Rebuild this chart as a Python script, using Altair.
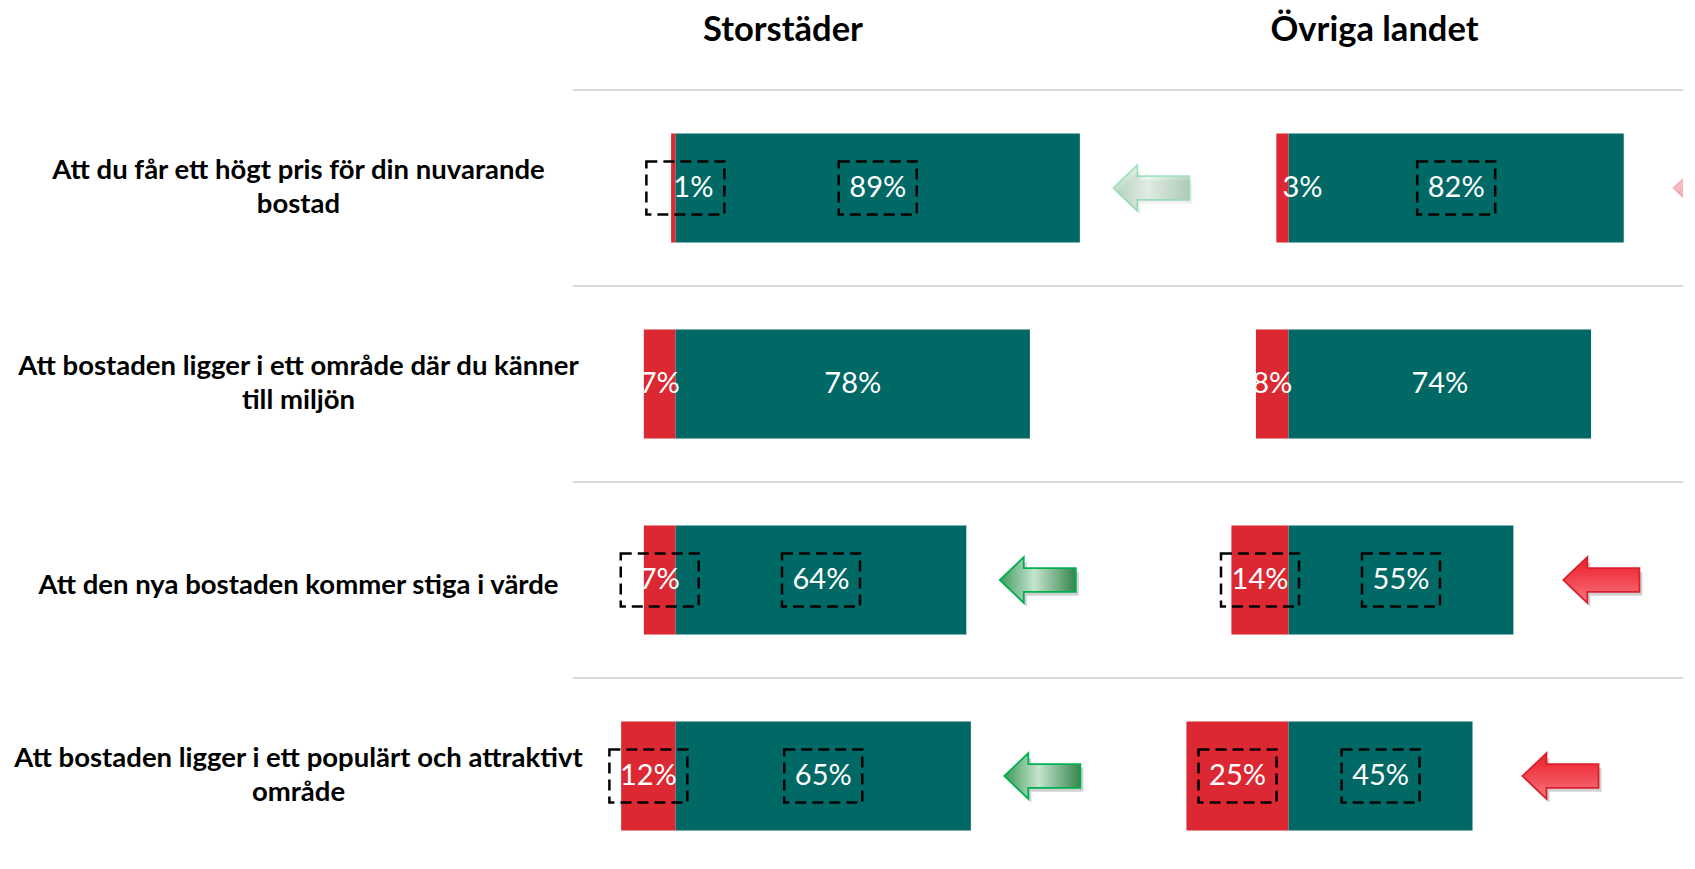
import altair as alt
import pandas as pd

# ---------------- data ----------------
categories = [
    "Att du får ett högt pris för din nuvarande\nbostad",
    "Att bostaden ligger i ett område där du känner\ntill miljön",
    "Att den nya bostaden kommer stiga i värde",
    "Att bostaden ligger i ett populärt och attraktivt\nområde",
]
regions = ["Storstäder", "Övriga landet"]

neg_storstader = [1, 7, 7, 12]
pos_storstader = [89, 78, 64, 65]
neg_ovriga = [3, 8, 14, 25]
pos_ovriga = [82, 74, 55, 45]

# dashed highlight boxes around labels
box_neg_storstader = [True, False, True, True]
box_pos_storstader = [True, False, True, True]
box_neg_ovriga = [False, False, True, True]
box_pos_ovriga = [True, False, True, True]

# trend arrows: "green" / "red" / None, and whether faded
arrow_storstader = ["green", None, "green", "green"]
arrow_ovriga = ["red", None, "red", "red"]
arrow_faded_storstader = [True, False, False, False]
arrow_faded_ovriga = [True, False, False, False]

# ---------------- style ----------------
RED = "#DC2832"
TEAL = "#006865"
FONT = "Lato, sans-serif"
SEP = "#d9d9d9"

RECT_SHAPE = "M-1,-0.68 L1,-0.68 L1,0.68 L-1,0.68 Z"
ARROW_SHAPE = "M-1,0 L-0.37,-0.6 L-0.37,-0.31 L1,-0.31 L1,0.31 L-0.37,0.31 L-0.37,0.6 Z"

GREEN_GRAD = alt.LinearGradient(
    gradient="linear",
    stops=[alt.GradientStop(offset=0, color="#3f9a5c"),
           alt.GradientStop(offset=0.45, color="#c4e4ce"),
           alt.GradientStop(offset=1, color="#36854d")],
    x1=0, x2=1, y1=0, y2=0)
RED_GRAD = alt.LinearGradient(
    gradient="linear",
    stops=[alt.GradientStop(offset=0, color="#ec1c2a"),
           alt.GradientStop(offset=0.55, color="#f24b55"),
           alt.GradientStop(offset=1, color="#f87880")],
    x1=0, x2=0, y1=0, y2=1)


def seg_frame(neg, pos, bneg, bpos):
    rows = []
    for c, n, p, bn, bp in zip(categories, neg, pos, bneg, bpos):
        rows.append(dict(category=c, side="neg", value=n, x0=-n, x1=0,
                         mid=-n / 2, label=f"{n}%", box=bn))
        rows.append(dict(category=c, side="pos", value=p, x0=0, x1=p,
                         mid=p / 2, label=f"{p}%", box=bp))
    return pd.DataFrame(rows)


def arrow_frame(pos, arrows, faded):
    rows = []
    for c, p, a, f in zip(categories, pos, arrows, faded):
        if a is not None:
            rows.append(dict(category=c, end=p, kind=a,
                             faded="faded" if f else "full"))
    return pd.DataFrame(rows)


def panel(region, neg, pos, bneg, bpos, arrows, faded, domain, width,
          first, arrow_dx, title_dx, clip_arrows):
    yscale = alt.Scale(domain=categories, paddingInner=0, paddingOuter=0,
                       range=[0, 784])
    xscale = alt.Scale(domain=domain, nice=False, zero=False)
    if first:
        yaxis = alt.Axis(title=None, ticks=False, domain=False, grid=False,
                         labelAlign="center", labelBaseline="middle",
                         labelPadding=275, labelFont=FONT,
                         labelFontWeight="bold", labelFontSize=27.5,
                         labelColor="black", labelLimit=1000,
                         labelLineHeight=34,
                         labelOffset={"condition": {
                             "test": "indexof(datum.value, '\\n') >= 0",
                             "value": -17}, "value": 6},
                         labelExpr="split(datum.label, '\\n')")
    else:
        yaxis = None

    segs = seg_frame(neg, pos, bneg, bpos)
    arr = arrow_frame(pos, arrows, faded)
    cats = pd.DataFrame({"category": categories})

    Y = alt.Y("category:N", scale=yscale, axis=yaxis)

    sep = alt.Chart(cats).mark_rule(color=SEP, strokeWidth=2).encode(
        y=alt.Y("category:N", scale=yscale, axis=yaxis, bandPosition=0))

    bars = alt.Chart(segs).mark_bar(size=109).encode(
        y=Y,
        x=alt.X("x0:Q", scale=xscale, axis=None),
        x2="x1:Q",
        color=alt.Color("side:N", scale=alt.Scale(domain=["neg", "pos"],
                                                  range=[RED, TEAL]),
                        legend=None),
    )

    lab_c = alt.Chart(segs).transform_filter("datum.value >= 5").mark_text(
        color="white", font=FONT, fontSize=29, align="center",
        baseline="middle").encode(y=Y, x=alt.X("mid:Q", scale=xscale, axis=None),
                                  text="label:N")
    lab_l = alt.Chart(segs).transform_filter("datum.value < 5").mark_text(
        color="white", font=FONT, fontSize=29, align="left",
        baseline="middle").encode(y=Y, x=alt.X("mid:Q", scale=xscale, axis=None),
                                  text="label:N")

    box_c = alt.Chart(segs).transform_filter(
        "datum.box && datum.value >= 5").mark_point(
        shape=RECT_SHAPE, size=78 ** 2, filled=False, stroke="black",
        strokeWidth=2.5, strokeDash=[11, 6], opacity=1).encode(
        y=Y, x=alt.X("mid:Q", scale=xscale, axis=None))
    box_l = alt.Chart(segs).transform_filter(
        "datum.box && datum.value < 5").mark_point(
        shape=RECT_SHAPE, size=78 ** 2, filled=False, stroke="black",
        strokeWidth=2.5, strokeDash=[11, 6], opacity=1, xOffset=12).encode(
        y=Y, x=alt.X("mid:Q", scale=xscale, axis=None))

    layers = [sep, bars, lab_c, lab_l, box_c, box_l]

    for kind, grad, stroke in [("green", GREEN_GRAD, "#00b050"),
                               ("red", RED_GRAD, "#d9212e")]:
        sub = arr[arr["kind"] == kind] if len(arr) else arr
        if len(sub) == 0:
            continue
        shadow = alt.Chart(sub).mark_point(
            shape=ARROW_SHAPE, size=76 ** 2, filled=True, fill="#000000",
            strokeWidth=0, xOffset=arrow_dx + 3, yOffset=4,
            clip=clip_arrows).encode(
            y=Y, x=alt.X("end:Q", scale=xscale, axis=None),
            opacity=alt.condition(alt.datum.faded == "faded",
                                  alt.value(0.06), alt.value(0.18)))
        arrow = alt.Chart(sub).mark_point(
            shape=ARROW_SHAPE, size=76 ** 2, filled=True, fill=grad,
            stroke=stroke, strokeWidth=1.8, xOffset=arrow_dx,
            clip=clip_arrows).encode(
            y=Y, x=alt.X("end:Q", scale=xscale, axis=None),
            opacity=alt.condition(alt.datum.faded == "faded",
                                  alt.value(0.35), alt.value(1.0)))
        layers += [shadow, arrow]

    return alt.layer(*layers).properties(
        width=width, height=770,
        title=alt.TitleParams(region, font=FONT, fontSize=34.5,
                              fontWeight="bold", color="black",
                              anchor="middle", frame="group", dx=title_dx,
                              offset=13.3, baseline="alphabetic"))


pA = panel(regions[0], neg_storstader, pos_storstader, box_neg_storstader,
           box_pos_storstader, arrow_storstader, arrow_faded_storstader,
           domain=[-22.6, 99.6], width=555, first=True, arrow_dx=71.5,
           title_dx=-67.5, clip_arrows=False)
pB = panel(regions[1], neg_ovriga, pos_ovriga, box_neg_ovriga,
           box_pos_ovriga, arrow_ovriga, arrow_faded_ovriga,
           domain=[-39.3, 96.5], width=555, first=False, arrow_dx=88,
           title_dx=-31, clip_arrows=True)

chart = alt.hconcat(pA, pB, spacing=0, bounds="flush").properties(
    padding={"left": 5, "top": 5, "right": 0, "bottom": 0}
).configure_view(strokeWidth=0)

chart.save("out.html", embed_options={"renderer": "svg", "actions": False})
